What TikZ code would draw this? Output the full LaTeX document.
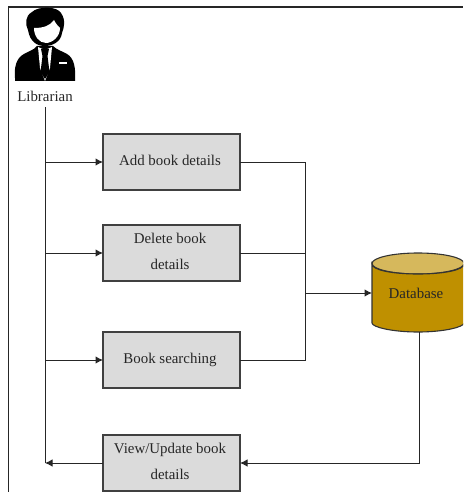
\documentclass[tikz,border=0pt]{standalone}
\usepackage{fontspec}
\setmainfont{Liberation Serif}
\usetikzlibrary{arrows.meta}
\begin{document}
\begin{tikzpicture}[x=1pt,y=-1pt,
  every node/.style={font=\fontsize{14.9}{17}\selectfont,text=black!85},
  proc/.style={draw=black!75,line width=1.1pt,fill=black!14,minimum width=137pt,minimum height=56pt,inner sep=0pt,outer sep=0pt,align=center},
  link/.style={draw=black!85,line width=1pt},
  arr/.style={link,-{Latex[length=7.5pt,width=7.5pt]}}]
\useasboundingbox (0,0) rectangle (463,492);
\clip (0,0) rectangle (463,492);
\draw[black!85,line width=1.2pt] (8.5,492) -- (8.5,7) -- (463,7);
% person
\fill[black] (15,78) .. controls (14,68) and (16,58) .. (24,54) .. controls (29,51) and (34,50) .. (37,46) -- (53,46) .. controls (57,50) and (62,51) .. (67,54) .. controls (74,58) and (76,68) .. (75,81) -- (15,81) -- cycle;
\fill[white] (38,47) -- (45,50) -- (52,47) -- (50,68) -- (45,81) -- (40,68) -- cycle;
\fill[black] (41,49) -- (49,49) -- (47.5,56) -- (49.5,72) -- (45,79) -- (40.5,72) -- (42.5,56) -- cycle;
\fill[white] (59,62) rectangle (67,64.5);
\fill[black] (28,30) .. controls (25,24) and (25,16) .. (32,12) .. controls (38,6) and (57,6) .. (61,13) .. controls (66,20) and (64,28) .. (62,33) .. controls (61,42) and (52,46) .. (45,46) .. controls (37,46) and (30,42) .. (28,30) -- cycle;
\fill[white] (34,28) .. controls (43,28) and (50,26) .. (54,20) .. controls (56,24) and (58,26) .. (60,28) .. controls (60,37) and (52,43) .. (46,43) .. controls (39,43) and (34,36) .. (34,28) -- cycle;
\node (lib) at (45,96) {Librarian};
\node[proc] (add) at (171.5,162) {\hspace*{-3pt}\raisebox{2.5pt}{Add book details}};
\node[proc] (del) at (171.5,253) {\hspace*{-3pt}\raisebox{-1pt}{\begin{tabular}{@{}c@{}}Delete book\\[9.5pt]details\end{tabular}}};
\node[proc] (search) at (171.5,360) {\hspace*{-3pt}\raisebox{1.5pt}{Book searching}};
\node[proc] (view) at (171.5,463) {\hspace*{-3pt}\raisebox{-1pt}{\begin{tabular}{@{}c@{}}View/Update book\\[9.5pt]details\end{tabular}}};
% database
\draw[black!80,line width=1.1pt,fill={rgb,255:red,214;green,184;blue,92}] (418,263.5) ellipse [x radius=46,y radius=10.5];
\fill[draw=black!80,line width=1.1pt,fill={rgb,255:red,191;green,144;blue,0}] (372,264) -- (372,323) .. controls (372,327) and (392,332) .. (418,332) .. controls (444,332) and (464,327) .. (464,323) -- (464,264) .. controls (464,270) and (444,274) .. (418,274) .. controls (392,274) and (372,270) .. (372,264) -- cycle;
\node (db) at (416,293) {Database};
\coordinate (dbw) at (372,293);
\coordinate (dbs) at (419,332);
\coordinate (top) at (45,107);
\coordinate (trunkA) at (45,162);
\coordinate (trunkB) at (45,253);
\coordinate (trunkC) at (45,360);
\coordinate (trunkD) at (45,463);
\coordinate (merge) at (305,293);
\draw[link] (top) -- (trunkD);
\draw[arr] (trunkA) -- (add.west);
\draw[arr] (trunkB) -- (del.west);
\draw[arr] (trunkC) -- (search.west);
\draw[arr] (view.west) -- (trunkD);
\draw[link] (add.east) -| (merge);
\draw[link] (search.east) -| (merge);
\draw[link] (del.east) -- (del.east -| merge);
\draw[arr] (merge) -- (dbw);
\draw[arr] (dbs) |- (view.east);
\end{tikzpicture}
\end{document}
